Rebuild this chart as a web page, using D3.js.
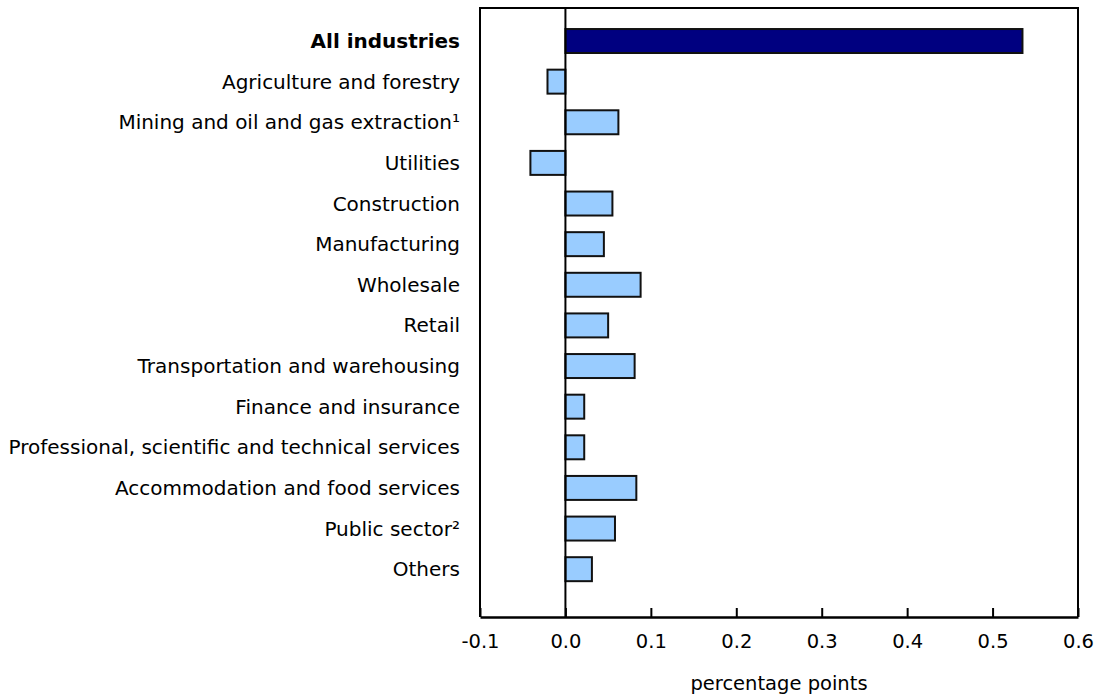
<!DOCTYPE html>
<html>
<head>
<meta charset="utf-8">
<script src="https://cdn.jsdelivr.net/npm/d3@7"></script>
<style>
  body { margin: 0; background: #fff; }
  text { font-family: Verdana, "DejaVu Sans", sans-serif; fill: #000; }
</style>
</head>
<body>
<svg></svg>
<script>
// Data
var categories = [
	"All industries",
	"Agriculture and forestry",
	"Mining and oil and gas extraction\u00b9",
	"Utilities",
	"Construction",
	"Manufacturing",
	"Wholesale",
	"Retail",
	"Transportation and warehousing",
	"Finance and insurance",
	"Professional, scientific and technical services",
	"Accommodation and food services",
	"Public sector\u00b2",
	"Others"
];
var values = [0.535, -0.021, 0.062, -0.041, 0.055, 0.045, 0.088, 0.050, 0.081, 0.022, 0.022, 0.083, 0.058, 0.031];
var xTicks = [-0.1, 0.0, 0.1, 0.2, 0.3, 0.4, 0.5, 0.6];
var xTitle = "percentage points";

var width = 1097, height = 695;
var plotLeft = 480, plotRight = 1078, plotTop = 8, plotBottom = 617;
var fontSize = "19.5px";

var svg = d3.select("svg")
	.attr("width", width)
	.attr("height", height);

// Scales
var x = d3.scaleLinear()
	.domain([-0.1, 0.6])
	.range([plotLeft, plotRight]);

var y = d3.scaleBand()
	.domain(categories)
	.range([20.7, 589.5])
	.paddingInner(0.41)
	.paddingOuter(0.205);

// Bars
svg.append("g")
	.selectAll("rect")
	.data(values)
	.enter().append("rect")
		.attr("x", function(d) { return x(Math.min(0, d)); })
		.attr("y", function(d, i) { return y(categories[i]); })
		.attr("width", function(d) { return Math.abs(x(d) - x(0)); })
		.attr("height", y.bandwidth())
		.attr("fill", function(d, i) { return i == 0 ? "#000080" : "#99ccff"; })
		.attr("stroke", "#111")
		.attr("stroke-width", 2);

// Zero line
svg.append("line")
	.attr("x1", x(0)).attr("x2", x(0))
	.attr("y1", plotTop).attr("y2", plotBottom)
	.attr("stroke", "#000")
	.attr("stroke-width", 2);

// Frame (left, top, right)
svg.append("path")
	.attr("d", "M" + plotLeft + "," + plotBottom + "V" + plotTop + "H" + plotRight + "V" + plotBottom)
	.attr("fill", "none")
	.attr("stroke", "#000")
	.attr("stroke-width", 2);

// Category labels
svg.append("g")
	.selectAll("text")
	.data(categories)
	.enter().append("text")
		.attr("x", 460)
		.attr("y", function(d) { return y(d) + y.bandwidth() / 2; })
		.attr("dy", "0.35em")
		.attr("text-anchor", "end")
		.attr("font-size", "20px")
		.attr("font-weight", function(d, i) { return i == 0 ? "bold" : "normal"; })
		.text(function(d) { return d; });

// X axis (ticks pointing up into the plot)
var xAxis = d3.axisBottom(x)
	.tickValues(xTicks)
	.tickSize(-9)
	.tickSizeOuter(0)
	.tickPadding(17)
	.tickFormat(function(d) { return d.toFixed(1); });

var gx = svg.append("g")
	.attr("transform", "translate(0," + plotBottom + ")")
	.call(xAxis);

gx.select(".domain")
	.attr("stroke-width", 2.5);
gx.selectAll(".tick line")
	.attr("stroke-width", 2);
gx.selectAll(".tick text")
	.attr("font-size", fontSize)
	.attr("font-family", "Verdana, 'DejaVu Sans', sans-serif");

// Axis title
svg.append("text")
	.attr("x", (plotLeft + plotRight) / 2)
	.attr("y", 683)
	.attr("dy", "0.35em")
	.attr("text-anchor", "middle")
	.attr("font-size", fontSize)
	.text(xTitle);
</script>
</body>
</html>
